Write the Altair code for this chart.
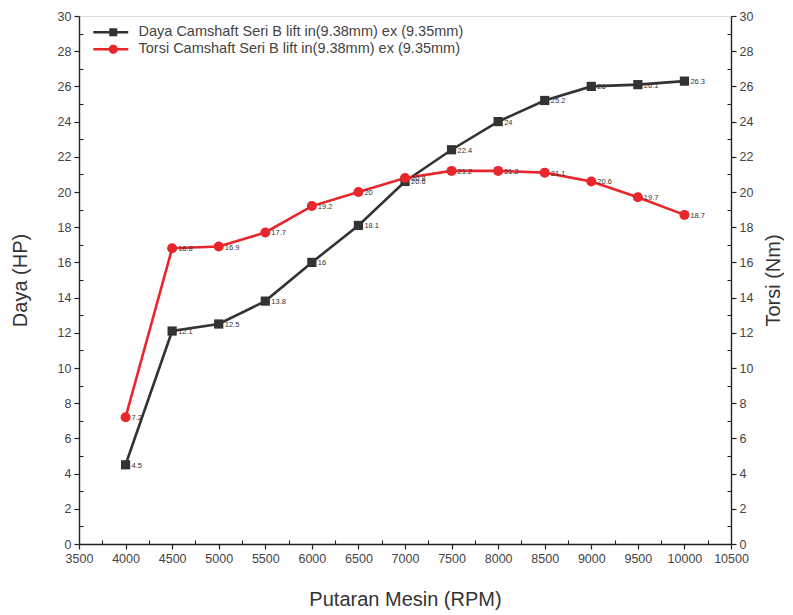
import altair as alt
import pandas as pd

rpm = [4000, 4500, 5000, 5500, 6000, 6500, 7000, 7500, 8000, 8500, 9000, 9500, 10000]
daya = [4.5, 12.1, 12.5, 13.8, 16, 18.1, 20.6, 22.4, 24, 25.2, 26, 26.1, 26.3]
torsi = [7.2, 16.8, 16.9, 17.7, 19.2, 20, 20.8, 21.2, 21.2, 21.1, 20.6, 19.7, 18.7]
series_names = [
    "Daya Camshaft Seri B lift in(9.38mm) ex (9.35mm)",
    "Torsi Camshaft Seri B lift in(9.38mm) ex (9.35mm)",
]
colors = ["#333333", "#e8262b"]
x_ticks = list(range(3500, 10501, 500))
x_minor = list(range(3750, 10500, 500))
y_ticks = list(range(0, 31, 2))
y_minor = list(range(1, 30, 2))

rows = []
for r, v in zip(rpm, daya):
    rows.append({"rpm": r, "value": v, "series": series_names[0], "label": f"{v:g}"})
for r, v in zip(rpm, torsi):
    rows.append({"rpm": r, "value": v, "series": series_names[1], "label": f"{v:g}"})
df = pd.DataFrame(rows)

FONT = "Liberation Sans"
AX = "#222222"
xs = alt.Scale(domain=[3500, 10500], nice=False, zero=False)
ys = alt.Scale(domain=[0, 30], nice=False, zero=True)

def major_axis(orient, values, title, title_pad, **extra):
    kw = dict(
        orient=orient, values=values, title=title, grid=False, format="d",
        tickSize=5, tickColor=AX, tickWidth=1.2, domainColor=AX, domainWidth=1.4,
        labelFont=FONT, labelFontSize=12.5, labelColor="#444444", labelPadding=3,
        labelFlush=False, labelOverlap=False,
        titleFont=FONT, titleFontSize=20, titleFontWeight="normal", titleColor="#333333",
        titlePadding=title_pad,
    )
    kw.update(extra)
    return alt.Axis(**kw)

def minor_axis(orient, values):
    return alt.Axis(orient=orient, values=values, title=None, grid=False, labels=False,
                    domain=False, tickSize=4, tickColor=AX, tickWidth=1.1, offset=-4)

d_data = df[df.series == series_names[0]]
t_data = df[df.series == series_names[1]]

daya_line = alt.Chart(d_data).mark_line(color=colors[0], strokeWidth=2.6).encode(
    x=alt.X("rpm:Q", scale=xs, axis=major_axis("bottom", x_ticks, "Putaran Mesin (RPM)", 25)),
    y=alt.Y("value:Q", scale=ys, axis=major_axis("left", y_ticks, "Daya (HP)", 27)),
)
torsi_line = alt.Chart(t_data).mark_line(color=colors[1], strokeWidth=2.6).encode(
    x=alt.X("rpm:Q", scale=xs, axis=minor_axis("bottom", x_minor)),
    y=alt.Y("value:Q", scale=ys, axis=major_axis("right", y_ticks, "Torsi (Nm)", 11,
                                                 titleAngle=270, titleBaseline="top")),
)
daya_pts = alt.Chart(d_data).mark_square(color=colors[0], size=85, opacity=1).encode(
    x=alt.X("rpm:Q", scale=xs, axis=None),
    y=alt.Y("value:Q", scale=ys, axis=minor_axis("left", y_minor)),
)
torsi_pts = alt.Chart(t_data).mark_circle(color=colors[1], size=100, opacity=1).encode(
    x=alt.X("rpm:Q", scale=xs, axis=None),
    y=alt.Y("value:Q", scale=ys, axis=minor_axis("right", y_minor)),
)

sq_path = "M-5,-0.32H-1V0.32H-5Z M1,-0.32H3.75V0.32H1Z M-1,-1H1V1H-1Z"
ci_path = ("M-5,-0.32H-1V0.32H-5Z M1,-0.32H3.75V0.32H1Z "
           "M1.15,0A1.15,1.15 0 1,1 -1.15,0A1.15,1.15 0 1,1 1.15,0Z")

def legend_def():
    return alt.Legend(title=None, orient="none", legendX=27, legendY=9,
                      symbolSize=64, symbolStrokeWidth=0, symbolOpacity=1,
                      labelFont=FONT, labelFontSize=14.5, labelColor="#444444",
                      labelOffset=18, rowPadding=2, labelLimit=600)

legend_layer = alt.Chart(df).mark_point(filled=True, size=0, opacity=1).encode(
    x=alt.X("rpm:Q", scale=xs, axis=None),
    y=alt.Y("value:Q", scale=ys, axis=None),
    color=alt.Color("series:N", scale=alt.Scale(domain=series_names, range=colors),
                    legend=legend_def()),
    shape=alt.Shape("series:N", scale=alt.Scale(domain=series_names, range=[sq_path, ci_path]),
                    legend=legend_def()),
)

labels = alt.Chart(df).mark_text(align="left", baseline="middle", dx=6, dy=1, fontSize=7.5,
                                 font=FONT, color="#333333").encode(
    x=alt.X("rpm:Q", scale=xs, axis=None),
    y=alt.Y("value:Q", scale=ys, axis=None),
    text="label:N",
)

chart = alt.layer(daya_line, torsi_line, daya_pts, torsi_pts, labels, legend_layer).resolve_axis(
    x="independent", y="independent"
).properties(
    width=652, height=528,
    autosize=alt.AutoSizeParams(type="none"),
    padding={"left": 71, "top": 8, "right": 53, "bottom": 66},
).configure_view(stroke=None).configure(background="white")

chart.save("out.html", embed_options={"renderer": "svg", "actions": False})
